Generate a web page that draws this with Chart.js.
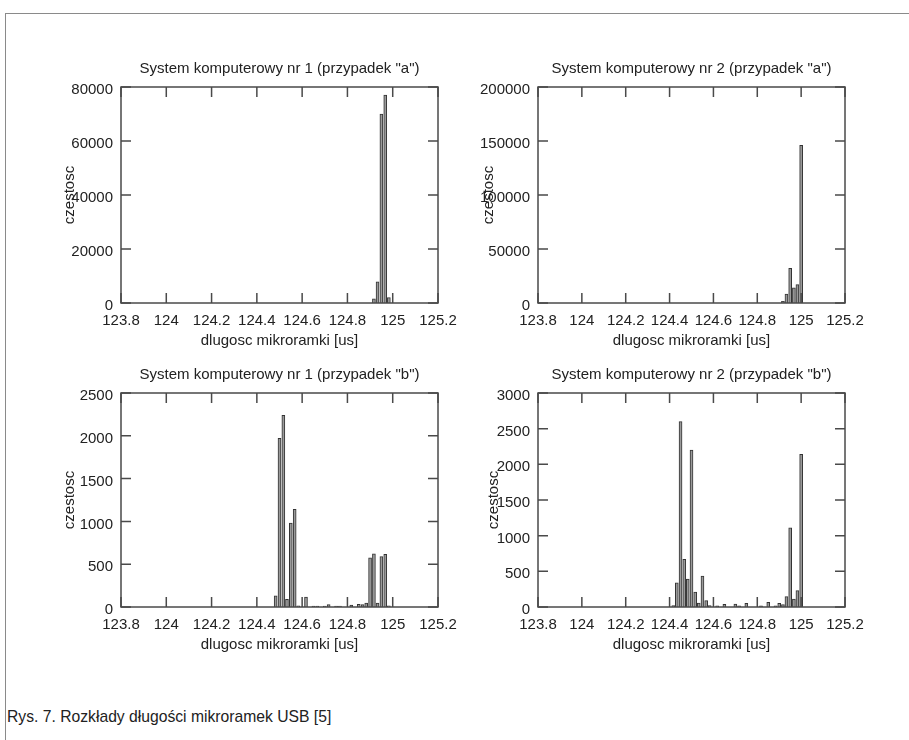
<!DOCTYPE html>
<html>
<head>
<meta charset="utf-8">
<script src="https://cdn.jsdelivr.net/npm/chart.js@4.4.1/dist/chart.umd.min.js"></script>
<style>
  body { margin: 0; background: #fff; }
  #page { position: relative; width: 909px; height: 740px; overflow: hidden; }
  #frame { position: absolute; left: 5px; top: 13px; width: 910px; height: 740px;
           border-top: 1px solid #8a8a8a; border-left: 1px solid #8a8a8a; }
  canvas { position: absolute; }
  #caption { position: absolute; left: 7px; top: 708px; font: 15.7px "Liberation Sans", Arial, sans-serif; color: #222; }
</style>
</head>
<body>
<div id="page">
  <div id="frame"></div>
  <canvas id="c1a"></canvas>
  <canvas id="c2a"></canvas>
  <canvas id="c1b"></canvas>
  <canvas id="c2b"></canvas>
  <div id="caption">Rys. 7. Rozkłady długości mikroramek USB [5]</div>
</div>
<script>
// dlugosc mikroramki [us] -> czestosc
var lengths1a = [124.917, 124.933, 124.95, 124.967, 124.983];
var counts1a  = [1500, 7800, 70000, 77000, 2000];

var lengths2a = [124.917, 124.933, 124.95, 124.967, 124.983, 125.0];
var counts2a  = [1500, 8300, 32000, 14000, 17000, 146000];

var lengths1b = [124.483, 124.5, 124.517, 124.533, 124.55, 124.567, 124.583, 124.617, 124.65, 124.667,
                 124.7, 124.717, 124.75, 124.767, 124.817, 124.85, 124.867, 124.883, 124.9, 124.917,
                 124.933, 124.95, 124.967, 124.983];
var counts1b  = [130, 1970, 2240, 90, 980, 1140, 15, 115, 10, 10,
                 12, 27, 12, 12, 23, 30, 27, 45, 575, 620,
                 45, 590, 615, 15];

var lengths2b = [124.417, 124.433, 124.45, 124.467, 124.483, 124.5, 124.517, 124.533, 124.55, 124.567,
                 124.583, 124.617, 124.65, 124.7, 124.717, 124.75, 124.817, 124.85, 124.883, 124.9,
                 124.917, 124.933, 124.95, 124.967, 124.983, 125.0];
var counts2b  = [20, 340, 2600, 670, 390, 2200, 210, 55, 435, 90,
                 20, 15, 38, 42, 15, 52, 15, 66, 15, 52,
                 33, 145, 1110, 110, 230, 2140];

var xTicks = [123.8, 124, 124.2, 124.4, 124.6, 124.8, 125, 125.2];
var yTicks1a = [0, 20000, 40000, 60000, 80000];
var yTicks2a = [0, 50000, 100000, 150000, 200000];
var yTicks1b = [0, 500, 1000, 1500, 2000, 2500];
var yTicks2b = [0, 500, 1000, 1500, 2000, 2500, 3000];

var FONT = '"Liberation Sans", Arial, sans-serif';
var TEXT = '#222';

// gnuplot style box with inward ticks on all four sides
var gnuplotFrame = {
    id: 'gnuplotFrame',
    afterDatasetsDraw: function(chart) {
        var ctx = chart.ctx, a = chart.chartArea;
        var x = chart.scales.x, y = chart.scales.y;
        ctx.save();
        ctx.strokeStyle = '#4a4a4a';
        ctx.lineWidth = 1.5;
        ctx.beginPath();
        x.ticks.forEach(function(t) {
            var px = x.getPixelForValue(t.value);
            ctx.moveTo(px, a.bottom); ctx.lineTo(px, a.bottom - 10);
            ctx.moveTo(px, a.top); ctx.lineTo(px, a.top + 10);
        });
        y.ticks.forEach(function(t) {
            var py = y.getPixelForValue(t.value);
            ctx.moveTo(a.left, py); ctx.lineTo(a.left + 10, py);
            ctx.moveTo(a.right, py); ctx.lineTo(a.right - 10, py);
        });
        ctx.stroke();
        ctx.strokeRect(a.left, a.top, a.right - a.left, a.bottom - a.top);
        ctx.restore();
    }
};

function createHistogram(id, box, title, lengths, counts, yTicks, yTitleX) {
    var axisW = 90, topH = 45, bottomH = 55, rightPad = 25;
    var canvas = document.getElementById(id);
    canvas.width = box.right - box.left + axisW + rightPad;
    canvas.height = box.bottom - box.top + topH + bottomH;
    canvas.style.left = (box.left - axisW) + 'px';
    canvas.style.top = (box.top - topH) + 'px';

    new Chart(canvas.getContext('2d'), {
        type: 'bar',
        data: {
            datasets: [{
                data: lengths.map(function(v, i) { return { x: v, y: counts[i] }; }),
                backgroundColor: '#9a9a9a',
                borderColor: '#333',
                borderWidth: 1,
                barThickness: 3
            }]
        },
        options: {
            responsive: false,
            animation: false,
            devicePixelRatio: 1,
            layout: { padding: { left: 0, right: rightPad, top: 0, bottom: 0 } },
            plugins: {
                legend: { display: false },
                tooltip: { enabled: false },
                title: {
                    display: true,
                    text: title,
                    fullSize: false,
                    color: TEXT,
                    font: { family: FONT, size: 15, weight: 'normal' },
                    padding: { top: 18, bottom: 9 }
                }
            },
            scales: {
                x: {
                    type: 'linear',
                    offset: false,
                    min: xTicks[0],
                    max: xTicks[xTicks.length - 1],
                    grid: { display: false },
                    border: { display: false },
                    afterBuildTicks: function(s) { s.ticks = xTicks.map(function(v) { return { value: v }; }); },
                    afterFit: function(s) { s.height = bottomH; },
                    ticks: {
                        autoSkip: false,
                        maxRotation: 0,
                        padding: 1,
                        color: TEXT,
                        font: { family: FONT, size: 15 },
                        callback: function(v) { return String(v); }
                    },
                    title: {
                        display: true,
                        text: 'dlugosc mikroramki [us]',
                        color: TEXT,
                        font: { family: FONT, size: 15 },
                        padding: { top: 0, bottom: 8 }
                    }
                },
                y: {
                    min: 0,
                    max: yTicks[yTicks.length - 1],
                    grid: { display: false },
                    border: { display: false },
                    afterBuildTicks: function(s) { s.ticks = yTicks.map(function(v) { return { value: v }; }); },
                    afterFit: function(s) { s.width = axisW; },
                    ticks: {
                        padding: 0,
                        labelOffset: 3,
                        color: TEXT,
                        font: { family: FONT, size: 15 },
                        callback: function(v) { return String(v); }
                    },
                    title: {
                        display: true,
                        text: 'czestosc',
                        color: TEXT,
                        font: { family: FONT, size: 15 },
                        padding: { top: yTitleX - (box.left - axisW) - 9, bottom: 0 }
                    }
                }
            }
        },
        plugins: [gnuplotFrame]
    });
}

createHistogram('c1a', { left: 121, top: 87, right: 438, bottom: 303 },
    'System komputerowy nr 1 (przypadek "a")', lengths1a, counts1a, yTicks1a, 70);
createHistogram('c2a', { left: 538, top: 87, right: 845, bottom: 303 },
    'System komputerowy nr 2 (przypadek "a")', lengths2a, counts2a, yTicks2a, 489);
createHistogram('c1b', { left: 121, top: 393, right: 438, bottom: 607 },
    'System komputerowy nr 1 (przypadek "b")', lengths1b, counts1b, yTicks1b, 70);
createHistogram('c2b', { left: 538, top: 393, right: 845, bottom: 607 },
    'System komputerowy nr 2 (przypadek "b")', lengths2b, counts2b, yTicks2b, 494);
</script>
</body>
</html>
